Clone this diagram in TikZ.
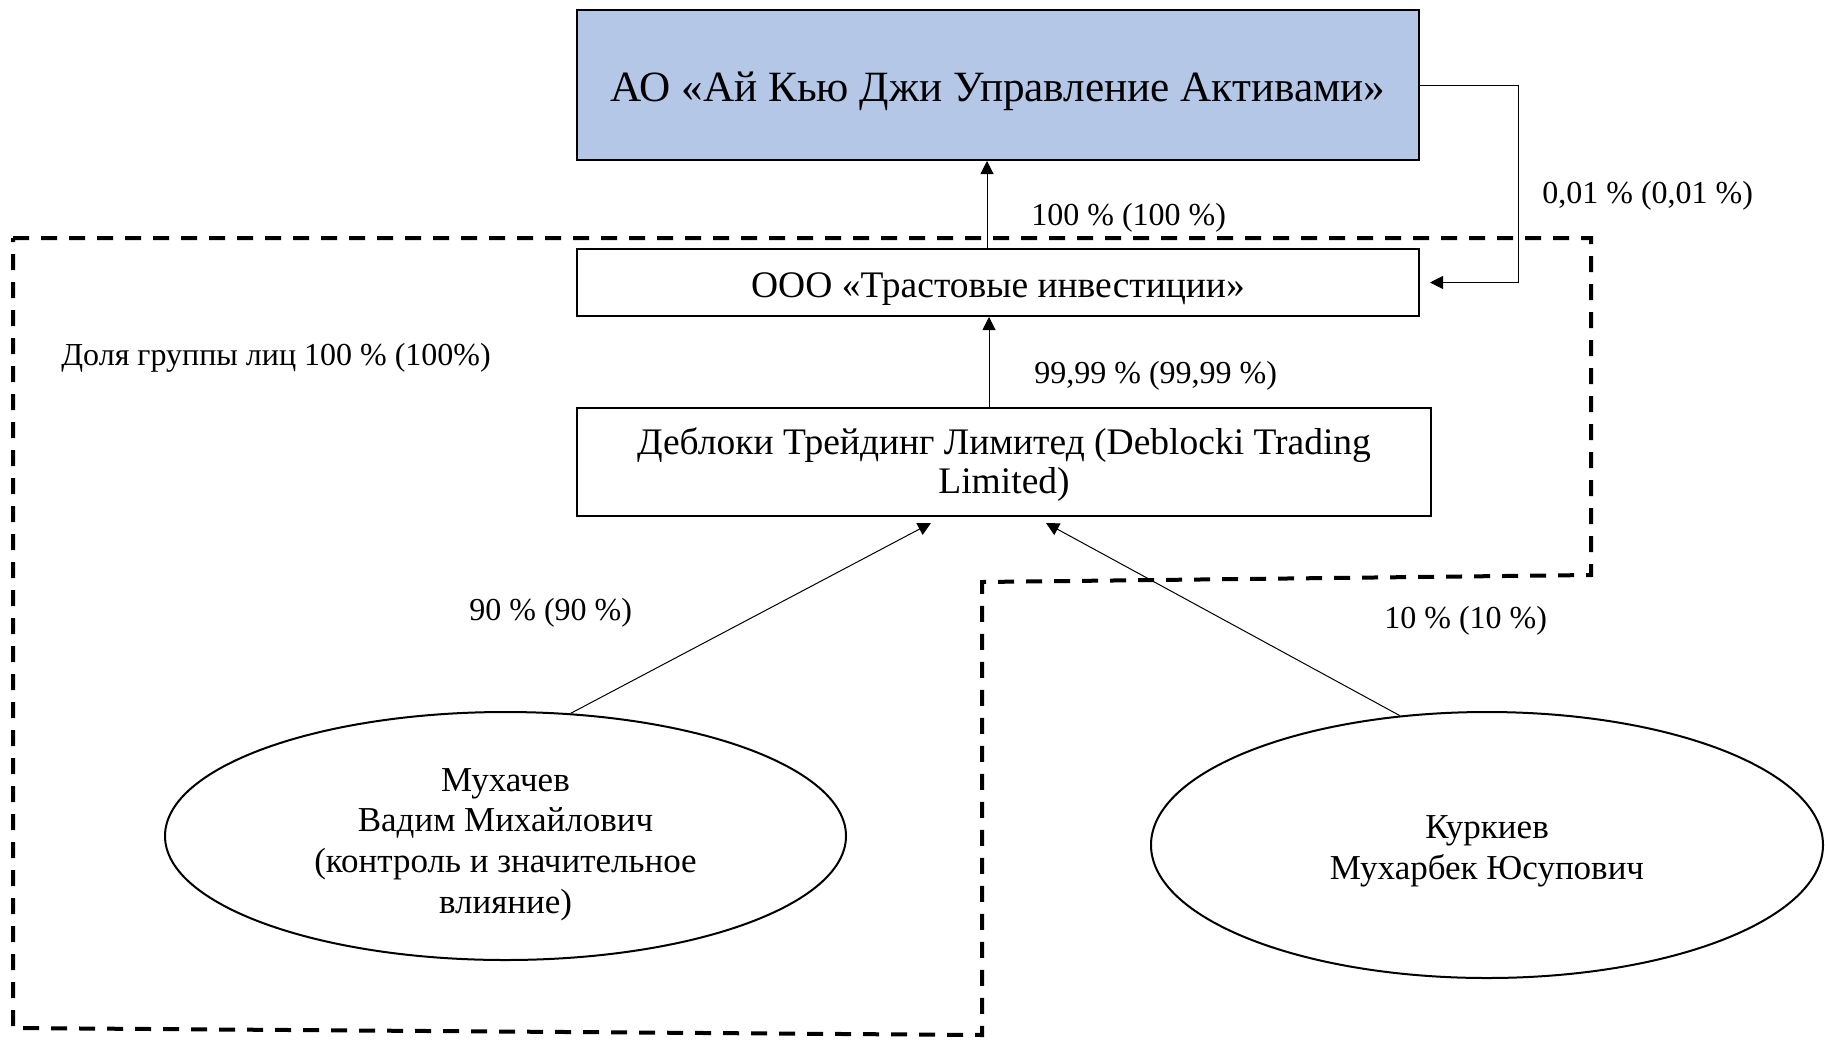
\documentclass[tikz,border=0pt]{standalone}
\usepackage{fontspec}
\setmainfont{Liberation Serif}
\usetikzlibrary{shapes.geometric,arrows.meta}

\definecolor{firmblue}{RGB}{180,199,231}

\tikzset{>={Triangle[length=6.5pt,width=6.5pt]}}
\tikzset{
	firm/.style={draw, line width=1pt, rectangle, inner sep=0pt, align=center, font=\fontsize{18.75}{19.5}\selectfont},
	person/.style={draw, line width=1pt, ellipse, inner sep=0pt, align=center, font=\fontsize{17.5}{20.4}\selectfont},
	share/.style={anchor=base west, inner sep=0pt, font=\fontsize{16}{18}\selectfont},
	link/.style={->, line width=0.5pt}
}

\begin{document}
\begin{tikzpicture}[x=0.5pt, y=-0.5pt]

			\useasboundingbox (0,0) rectangle (1825,1039);

			\draw [line width=2pt, dash pattern=on 8pt off 6pt]
				(13,238) -- (1591,238) -- (1591,575) -- (982,582) -- (982,1035) -- (13,1028) -- cycle;

			\node[firm, fill=firmblue, minimum width=421pt, minimum height=75pt, text height=21pt, text depth=5pt, font=\fontsize{21.6}{24}\selectfont] (aqg) at (998,85) {АО «Ай Кью Джи Управление Активами»};
			\node[firm, fill=white, minimum width=421pt, minimum height=33.5pt, text height=18.5pt, text depth=4pt] (ooo) at (998,282.5) {ООО «Трастовые инвестиции»};
			\node[firm, fill=white, minimum width=427pt, minimum height=54pt] (debl) at (1004,462) {\rule{0pt}{16pt}Деблоки Трейдинг Лимитед (Deblocki Trading\\ Limited)};
			\node[person, minimum width=340.5pt, minimum height=124pt] (muh) at (505.5,836) {\rule{0pt}{20pt}Мухачев\\ Вадим Михайлович\\ (контроль и значительное\\ влияние)};
			\node[person, minimum width=336pt, minimum height=133pt] (kur) at (1487,845) {\rule{0pt}{18pt}Куркиев\\ Мухарбек Юсупович};

			\draw[link] ([xshift=-5.5pt]ooo.north) -- ([xshift=-5.5pt]aqg.south);
			\draw[link] ([xshift=-7.5pt]debl.north) -- ([xshift=-4.5pt]ooo.south);
			\draw[link] (aqg.east) -- ++(98,0) |- ([xshift=5pt]ooo.east);
			\draw[link] (muh.62) -- ([xshift=-36.5pt, yshift=-3pt]debl.south);
			\draw[link] (kur.124) -- ([xshift=21pt, yshift=-3pt]debl.south);

			\node[share] (l100) at (1031,225) {100 \% (100 \%)};
			\node[share] (l001) at (1542,203) {0,01 \% (0,01 \%)};
			\node[share] (l9999) at (1034,383) {99,99 \% (99,99 \%)};
			\node[share] (lgrp) at (61,365) {Доля группы лиц 100 \% (100\%)};
			\node[share] (l90) at (469,620) {90 \% (90 \%)};
			\node[share] (l10) at (1384,628) {10 \% (10 \%)};

		\end{tikzpicture}
\end{document}
